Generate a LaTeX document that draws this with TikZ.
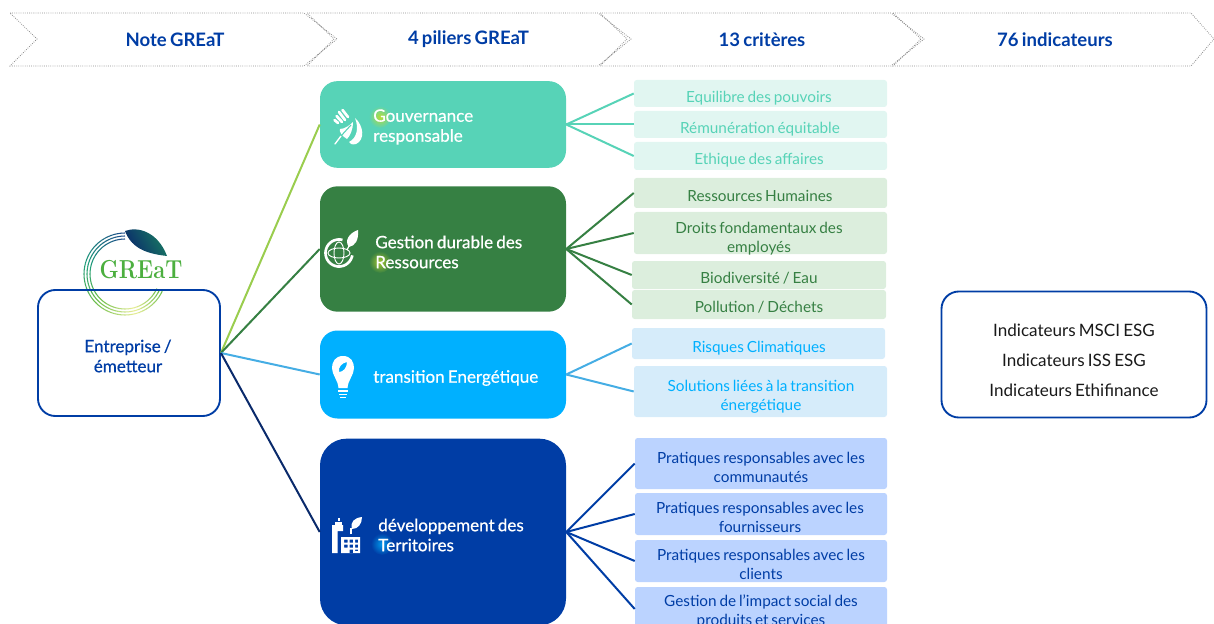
\documentclass[tikz,border=0pt]{standalone}
\usepackage{fontspec}
\setmainfont{Lato}[WordSpace=0.72]
\newfontfamily\medfont{Lato}[WordSpace=0.72,FakeBold=0.6]
\newfontfamily\logofont{Latin Modern Roman}
\usetikzlibrary{shadings}
\definecolor{navy}{HTML}{003DA5}
\definecolor{teal1}{HTML}{57D3B7}
\definecolor{teal2}{HTML}{E1F6F1}
\definecolor{green1}{HTML}{368043}
\definecolor{green2}{HTML}{DCEEDD}
\definecolor{sky1}{HTML}{00B0FF}
\definecolor{sky2}{HTML}{D6ECFA}
\definecolor{blue2}{HTML}{BBD3FF}
\definecolor{lime}{HTML}{9ACD4E}
\definecolor{dnavy}{HTML}{0A2A6B}
\definecolor{skyline}{HTML}{45ADE4}
\definecolor{ringA}{HTML}{1F4E8C}
\definecolor{ringB}{HTML}{1F9C7A}
\definecolor{ringC}{HTML}{6DBE4B}
\definecolor{ringD}{HTML}{E9EE9A}
\definecolor{logotxt}{HTML}{4CAF3F}
\tikzset{
 x=0.75pt,y=-0.75pt,
 chev/.style={draw=black!45,densely dotted,line width=0.6pt},
 headtxt/.style={font=\fontsize{13.9pt}{16pt}\selectfont\bfseries,text=navy,anchor=center},
 pillar/.style={rounded corners=13pt,draw=none,fill=#1,minimum width=184.5pt,inner sep=0pt},
 ptxt/.style={font=\fontsize{12.8pt}{15pt}\medfont,text=white,align=left,anchor=west,inner sep=0pt},
 critbox/.style={rounded corners=2pt,inner sep=0pt,fill=#1},
 ctxt/.style={font=\fontsize{11.5pt}{14.2pt}\selectfont,align=center,anchor=center,text=#1},
 wire/.style={line width=1.5pt,draw=#1},
 outline/.style={draw=navy,line width=1.4pt,rounded corners=13pt,inner sep=0pt},
 ico/.style={fill=white,draw=none},
 icol/.style={draw=white,line width=2pt,line cap=round},
}
\begin{document}
\begin{tikzpicture}
\useasboundingbox (0,0) rectangle (1214,624);
\clip (0,0) rectangle (1214,624);
% chevrons
\draw[chev] (10,13)--(304,13)--(337,39)--(304,66)--(10,66)--(37,39)--cycle;
\draw[chev] (307,13)--(598,13)--(631,39)--(598,66)--(307,66)--(334,39)--cycle;
\draw[chev] (600,13)--(891,13)--(924,39)--(891,66)--(600,66)--(627,39)--cycle;
\draw[chev] (893,13)--(1191,13)--(1214,39)--(1191,66)--(893,66)--(921,39)--cycle;
\node[headtxt] (h1) at (175,39.5) {Note GREaT};
\node[headtxt] (h2) at (468.5,39.5) {4 piliers GREaT};
\node[headtxt] (h3) at (762,39.5) {13 critères};
\node[headtxt] (h4) at (1055,39.5) {76 indicateurs};
% logo rings: angle t in picture coordinates, y downward
\foreach \r in {41,38,35}{
 \foreach \t in {270,265,...,30}{
  \pgfmathtruncatemacro{\u}{(270-\t)/2.4}
  \ifnum\u<30
    \pgfmathtruncatemacro{\p}{100-\u*100/30}\colorlet{seg}{ringA!\p!ringB}
  \else\ifnum\u<55
    \pgfmathtruncatemacro{\p}{100-(\u-30)*100/25}\colorlet{seg}{ringB!\p!ringC}
  \else\ifnum\u<80
    \pgfmathtruncatemacro{\p}{100-(\u-55)*100/25}\colorlet{seg}{ringC!\p!ringD}
  \else
    \pgfmathtruncatemacro{\p}{(\u-80)*100/20}\colorlet{seg}{ringC!\p!ringD}
  \fi\fi\fi
  \draw[seg,line width=0.8pt] ({125+\r*cos(\t)},{274+\r*sin(\t)}) -- ({125+\r*cos(\t-5.3)},{274+\r*sin(\t-5.3)});
 }
}
\path[left color=dnavy,right color=ringB!80!black,shading angle=120] (125,231) .. controls (138,226) and (158,232) .. (167,256) .. controls (150,254) and (132,250) .. cycle;
\node[font=\fontsize{19.5pt}{22pt}\logofont\bfseries,text=logotxt,inner sep=0pt,xscale=0.84,transform shape] (logo) at (141,270) {GREaT};
% entreprise
\node[outline,minimum width=136.5pt,minimum height=94.5pt] (ent) at (129,353) {};
\node[font=\fontsize{12.8pt}{15pt}\medfont,text=navy,align=center] (enttxt) at (128,356) {Entreprise /\\émetteur};
% pillars
\node[pillar=teal1,minimum height=65pt] (p1) at (443,124.5) {};
\node[pillar=green1,minimum height=94pt] (p2) at (443,249) {};
\node[pillar=sky1,minimum height=66pt] (p3) at (443,374.5) {};
\node[pillar=navy,rounded corners=20pt,minimum height=140pt] (p4) at (443,532) {};
% letter glows
\shade[inner color=lime!70!yellow,outer color=teal1] (380,117) circle (11);
\shade[inner color=lime!70!yellow!90!black,outer color=green1] (380,262) circle (11);
\shade[inner color=blue!30!cyan!80!navy,outer color=navy] (382,544) circle (11);
\node[ptxt] (t1) at (373,127) {Gouvernance\\responsable};
\node[ptxt] (t2) at (375,252) {Gestion durable des\\Ressources};
\node[ptxt] (t3) at (373,378) {transition Energétique};
\node[ptxt] (t4) at (378,535) {développement des\\Territoires};
% icon 1: hand and leaf
\draw[icol] (334.5,120) -- (338,123);
\draw[icol] (336.5,116) -- (342,122);
\draw[icol] (339,112) -- (345,120);
\draw[icol] (342.5,110) -- (348,117);
\path[ico] (353,122) .. controls (353,130) and (350,136) .. (347,139) .. controls (342,136) and (339,132) .. (340,129) .. controls (345,129) and (350,125) .. cycle;
\draw[white,line width=1pt,line cap=round] (335,144) -- (341,136);
\draw[teal1,line width=0.8pt] (341,136) -- (351,125);
\path[ico] (355,118) .. controls (364,126) and (365,140) .. (356,144) .. controls (352,145) and (350,144) .. (349,142) .. controls (357,138) and (359,128) .. cycle;
% icon 2: globe and leaf
\draw[white,line width=2pt] plot[smooth,domain=10:285,samples=30] ({339+13.5*cos(\x)},{253+13.5*sin(\x)});
\draw[white,line width=0.7pt] (339,253) ellipse (11 and 5);
\draw[white,line width=0.7pt] (339,253) ellipse (5 and 11);
\path[ico] (358,230) .. controls (359,240) and (355,246) .. (349,247) .. controls (344,241) and (349,233) .. cycle;
\draw[white,line width=1pt] (347,250) -- (352,240);
% icon 3: bulb
\path[ico,even odd rule] (343,356) .. controls (351,356) and (354,362) .. (354,368) .. controls (354,375) and (348,380) .. (347.5,388) -- (338.5,388) .. controls (338,380) and (332,375) .. (332,368) .. controls (332,362) and (335,356) .. (343,356) -- cycle
 (347,362) .. controls (342,363) and (338,367) .. (339,372) .. controls (343,372) and (347,368) .. cycle;
\draw[white,line width=1.4pt] (338,391) -- (348,391) (339,394.5) -- (347,394.5);
\path[ico] (340,396.5) rectangle (346,398);
% icon 4: building and leaf
\path[ico] (332,525) -- (343,525) -- (343,531) -- (337.5,531) -- (337.5,553) -- (332,553) -- cycle;
\path[ico] (335,522) rectangle (342,525);
\path[ico] (338,518) rectangle (340,521);
\path[ico,even odd rule] (341,537) rectangle (360,553)
  (344,539.5) rectangle (347.5,542.5) (349.5,539.5) rectangle (353,542.5) (355,539.5) rectangle (358,542.5)
  (344,544.5) rectangle (347.5,547.5) (349.5,544.5) rectangle (353,547.5) (355,544.5) rectangle (358,547.5)
  (349.5,549.5) rectangle (353,553) (355,549.5) rectangle (358,551);
\path[ico] (362,517) .. controls (362,524) and (358,529) .. (352,529) .. controls (350,522) and (354,518) .. cycle;
\draw[white,line width=1pt] (351,534) -- (351,528);
% left wires
\draw[wire=lime] (ent.east) -- (p1.west);
\draw[wire=green1] (ent.east) -- (p2.west);
\draw[wire=skyline] (ent.east) -- (p3.west);
\draw[wire=dnavy] (ent.east) -- (p4.west);
% right box
\node[outline,minimum width=198.75pt,minimum height=94.5pt] (ind) at (1074,354.5) {};
\node[font=\fontsize{12.8pt}{22.5pt}\selectfont,align=center,text=black!90] (indtxt) at (1074,360) {Indicateurs MSCI ESG\\Indicateurs ISS ESG\\Indicateurs Ethifinance};
% criteria
\node[critbox=teal2,minimum width=189.75pt,minimum height=20.25pt] (c1) at (760.5,93.5) {};
\node[critbox=teal2,minimum width=189.75pt,minimum height=20.25pt] (c2) at (760.5,124.5) {};
\node[critbox=teal2,minimum width=189.75pt,minimum height=21pt] (c3) at (760.5,156) {};
\node[critbox=green2,minimum width=189.75pt,minimum height=22.5pt] (c4) at (760.5,193) {};
\node[critbox=green2,minimum width=189.75pt,minimum height=31.5pt] (c5) at (760.5,233) {};
\node[critbox=green2,minimum width=190.5pt,minimum height=21pt] (c6) at (759,275) {};
\node[critbox=green2,minimum width=190.5pt,minimum height=21.75pt] (c7) at (759,304.5) {};
\node[critbox=sky2,minimum width=189.75pt,minimum height=23.25pt] (c8) at (758.5,343.5) {};
\node[critbox=sky2,minimum width=189.75pt,minimum height=38.25pt] (c9) at (760.5,391.5) {};
\node[critbox=blue2,minimum width=189pt,minimum height=38.25pt] (c10) at (761,463.5) {};
\node[critbox=blue2,minimum width=189pt,minimum height=31.5pt] (c11) at (761,514) {};
\node[critbox=blue2,minimum width=189pt,minimum height=31.5pt] (c12) at (761,561) {};
\node[critbox=blue2,minimum width=189pt,minimum height=33pt] (c13) at (761,609) {};
\node[ctxt=teal1] (l1) at (759,98) {Equilibre des pouvoirs};
\node[ctxt=teal1] (l2) at (760,129) {Rémunération équitable};
\node[ctxt=teal1] (l3) at (759,160.5) {Ethique des affaires};
\node[ctxt=green1] (l4) at (760,195.5) {Ressources Humaines};
\node[ctxt=green1] (l5) at (759,238.5) {Droits fondamentaux des\\employés};
\node[ctxt=green1] (l6) at (759,278) {Biodiversité / Eau};
\node[ctxt=green1] (l7) at (759,307) {Pollution / Déchets};
\node[ctxt=sky1] (l8) at (759,348.5) {Risques Climatiques};
\node[ctxt=sky1] (l9) at (761,396.5) {Solutions liées à la transition\\énergétique};
\node[ctxt=navy] (l10) at (761,467) {Pratiques responsables avec les\\communautés};
\node[ctxt=navy] (l11) at (760,517.5) {Pratiques responsables avec les\\fournisseurs};
\node[ctxt=navy] (l12) at (761,564.5) {Pratiques responsables avec les\\clients};
\node[ctxt=navy] (l13) at (761,611) {Gestion de l’impact social des\\produits et services};
% right wires
\foreach \n in {c1,c2,c3}{\draw[wire=teal1] (p1.east) -- (\n.west);}
\foreach \n in {c4,c5,c6,c7}{\draw[wire=green1] (p2.east) -- (\n.west);}
\foreach \n in {c8,c9}{\draw[wire=skyline] (p3.east) -- (\n.west);}
\foreach \n in {c10,c11,c12,c13}{\draw[wire=navy] (p4.east) -- (\n.west);}
\end{tikzpicture}
\end{document}
